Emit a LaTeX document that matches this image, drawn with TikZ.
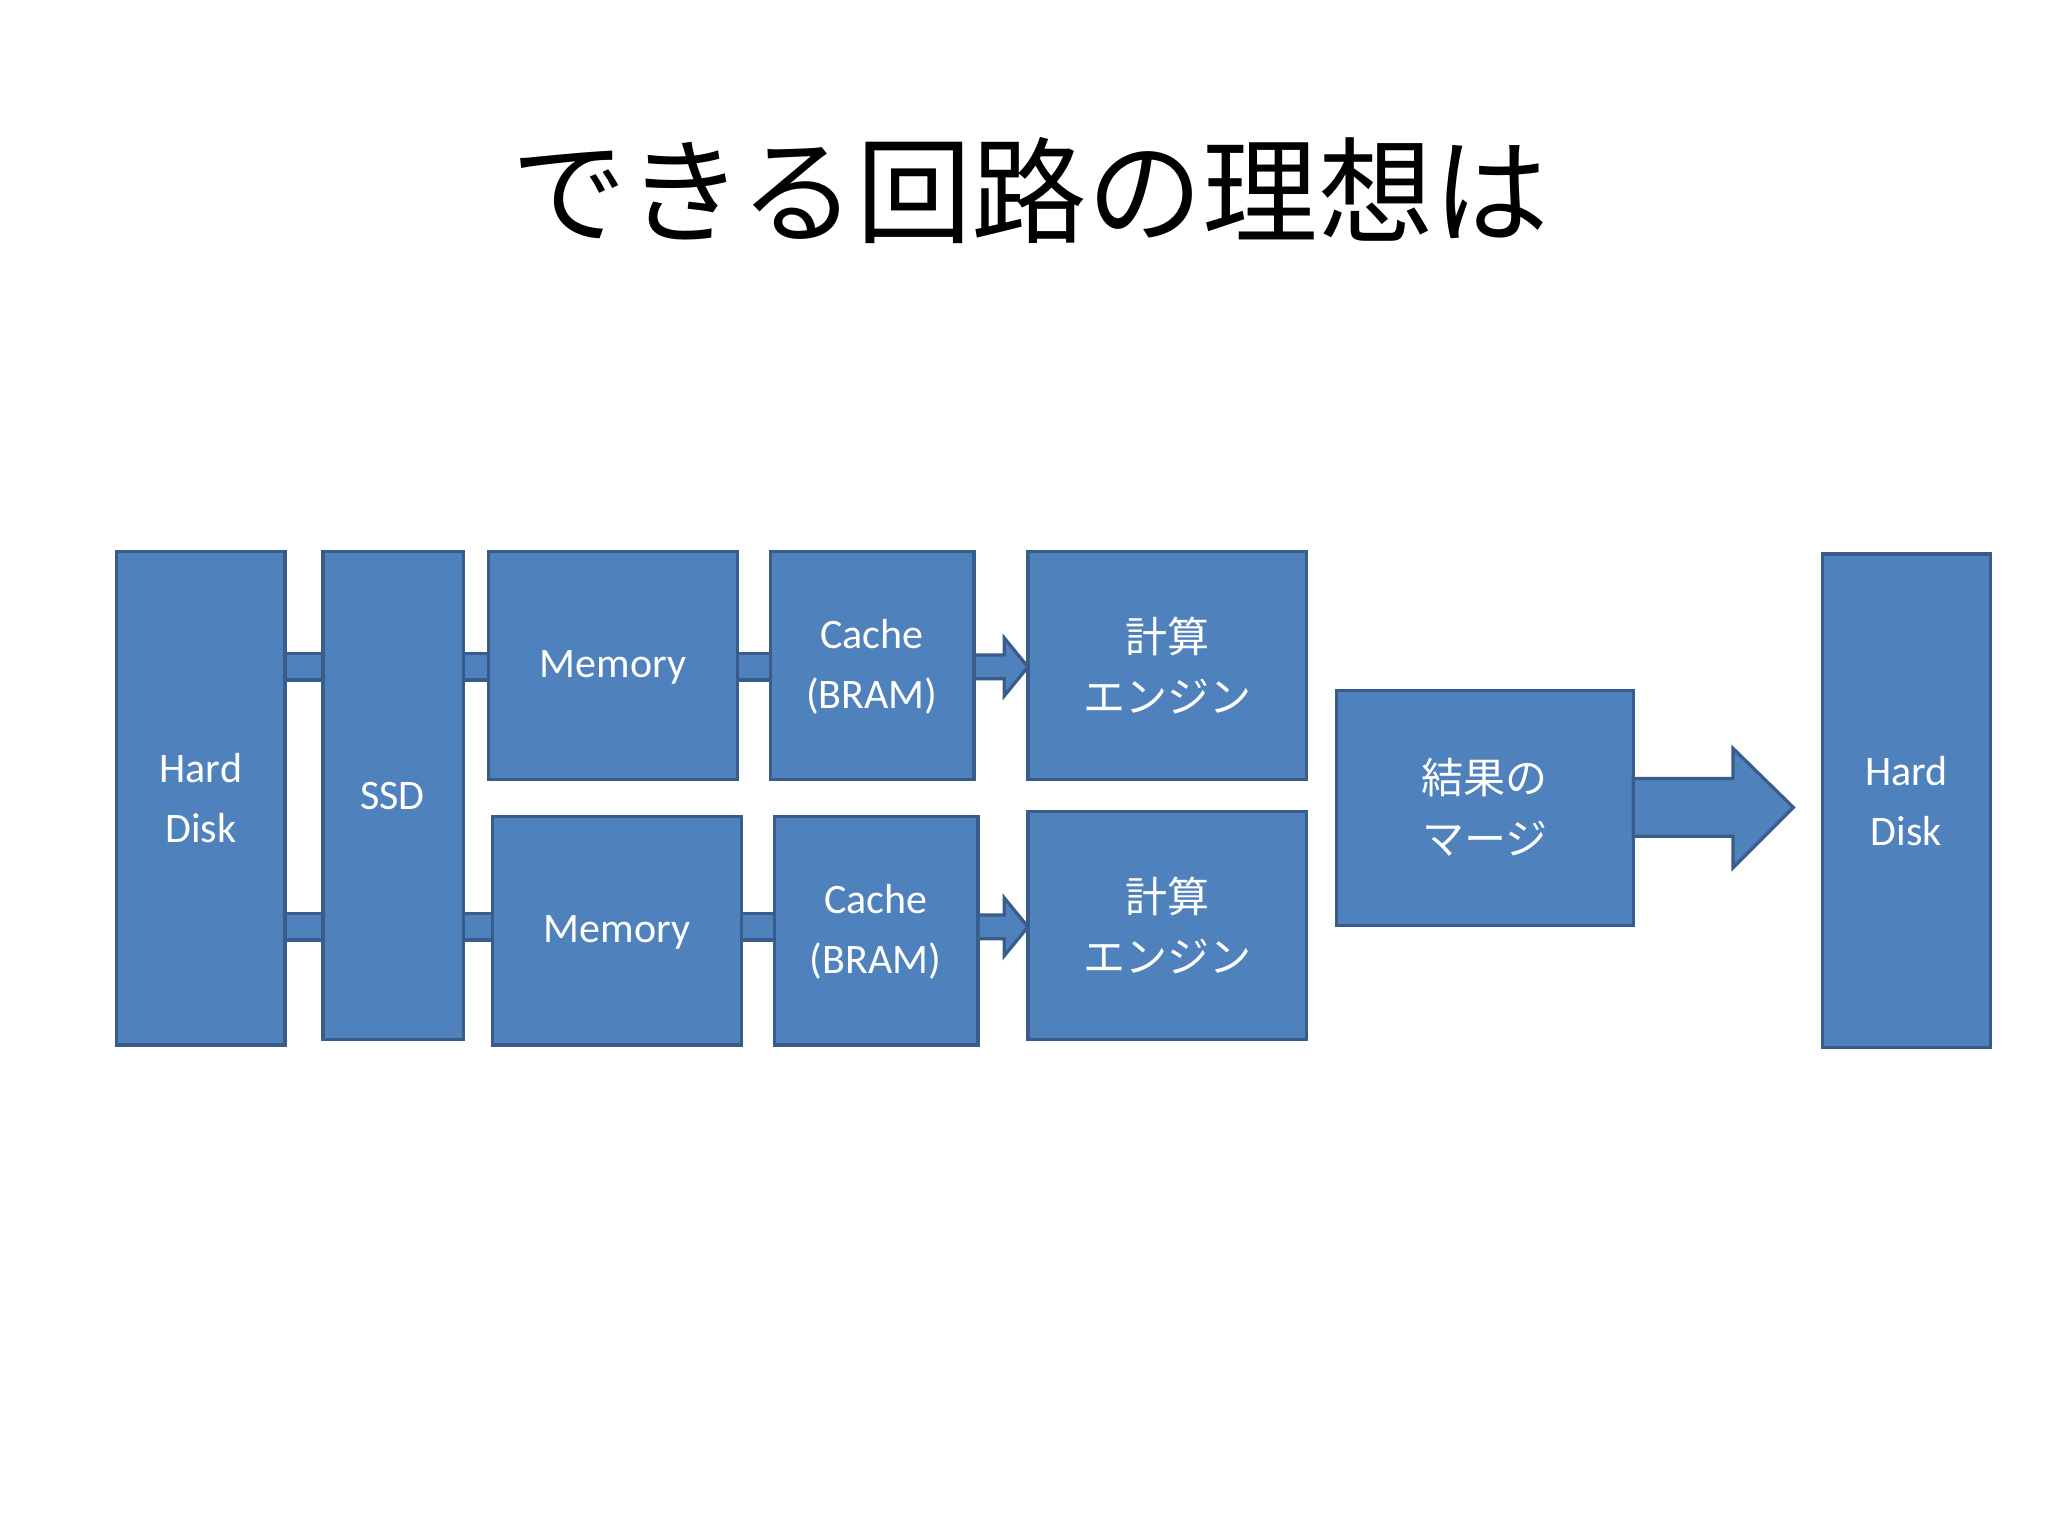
\documentclass[tikz,border=0pt]{standalone}
\usepackage{fontspec}
\setmainfont{Carlito}
\newfontfamily\jp{Noto Sans CJK JP}
\definecolor{bfill}{HTML}{4F81BD}
\definecolor{bline}{HTML}{385D8A}
\begin{document}
\begin{tikzpicture}[x=1pt,y=-1pt,
  box/.style={draw=bline,line width=2.5pt,fill=bfill},
  lbl/.style={text=white,align=center,font=\fontsize{32}{46}\selectfont}]
\useasboundingbox[fill=white] (0,0) rectangle (1560,1170);
\node[font=\jp\fontsize{88}{100}\selectfont] (title) at (785,145) {できる回路の理想は};
% connector bars
\foreach \y in {508,706}{
  \draw[box] (210,\y-10) rectangle (250,\y+10);
  \draw[box] (348,\y-10) rectangle (378,\y+10);
  \draw[box] (558,\y-10) rectangle (592,\y+10);
}
% boxes
\draw[box] (89,420) rectangle (217,796); \node[lbl] (hd1) at (153,608) {Hard\\Disk};
\draw[box] (246,420) rectangle (353,792); \node[lbl] (ssd) at (299,606) {SSD};
\draw[box] (372,420) rectangle (562,594); \node[lbl] (m1) at (467,508) {Memory};
\draw[box] (587,420) rectangle (742,594); \node[lbl] (c1) at (664,508) {Cache\\(BRAM)};
\draw[box] (783,420) rectangle (995,594); \node[lbl,font=\jp\fontsize{32}{46}\selectfont] (e1) at (889,507) {計算\\エンジン};
\draw[box] (375,622) rectangle (565,796); \node[lbl] (m2) at (470,710) {Memory};
\draw[box] (590,622) rectangle (745,796); \node[lbl] (c2) at (667,710) {Cache\\(BRAM)};
\draw[box] (783,618) rectangle (995,792); \node[lbl,font=\jp\fontsize{32}{46}\selectfont] (e2) at (889,705) {計算\\エンジン};
\draw[box] (1018,526) rectangle (1244,705); \node[lbl,font=\jp\fontsize{32}{46}\selectfont] (mg) at (1131,615) {結果の\\マージ};
\draw[box] (1388,422) rectangle (1516,798); \node[lbl] (hd2) at (1452,610) {Hard\\Disk};
% small arrows
\foreach \y/\x in {508/742,706/745}{
  \draw[box,line join=miter] (\x,\y-9) -- (765,\y-9) -- (765,\y-22) -- (783,\y) -- (765,\y+22) -- (765,\y+9) -- (\x,\y+9) -- cycle;
}
% big arrow
\draw[box,line join=miter] (1244,593) -- (1320,593) -- (1320,570) -- (1366,615) -- (1320,661) -- (1320,637) -- (1244,637) -- cycle;
\end{tikzpicture}
\end{document}
